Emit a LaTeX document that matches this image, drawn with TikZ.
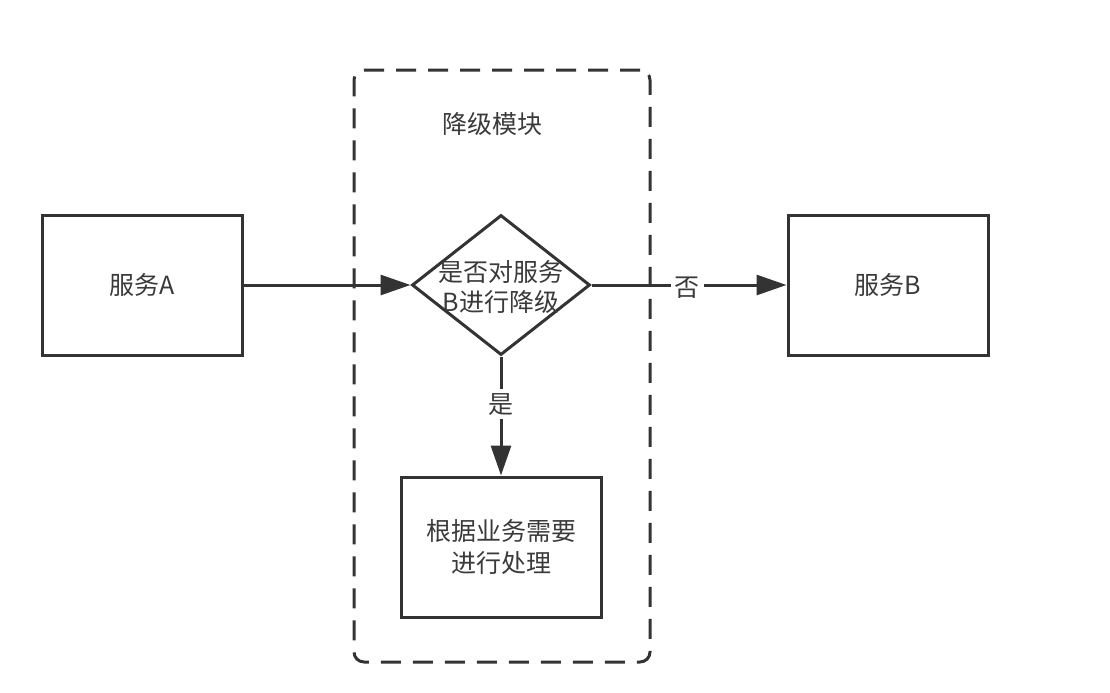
\documentclass[tikz,border=0pt]{standalone}
\usepackage{fontspec}
\setmainfont{Noto Sans CJK SC}
\usepackage{xcolor}
\usepackage{tikz}
\usetikzlibrary{shapes.geometric, arrows.meta, positioning}

\definecolor{linegray}{HTML}{333333}
\definecolor{textgray}{HTML}{3A3A3A}

\begin{document}
\begin{tikzpicture}[
        x=0.5pt, y=-0.5pt,
        node distance=59.5pt and 83.5pt,
        box/.style={draw=linegray, line width=1.5pt, rectangle, minimum width=100pt, minimum height=70pt, align=center, text=textgray, font=\fontsize{12.5}{16}\selectfont},
        decision/.style={draw=linegray, line width=1.5pt, diamond, inner sep=0pt, minimum width=89pt, minimum height=70pt},
        module/.style={draw=linegray, line width=1.5pt, dash pattern=on 10pt off 6pt, rounded corners=5pt, minimum width=148pt, minimum height=296pt},
        arrow/.style={-{Triangle[length=15pt, width=10pt]}, line width=1.5pt, draw=linegray},
        label/.style={align=center, text=textgray, font=\fontsize{12.5}{15}\selectfont},
        choice/.style={fill=white, inner sep=2pt, text=textgray, font=\fontsize{12.5}{15}\selectfont}
    ]
        \useasboundingbox (0,0) rectangle (1110,692);

        % Nodes
        \node[module] (mod) at (502,366) {};
        \node[label] (mod_title) at (492,124) {降级模块};
        \node[box] (svcA) at (142,285) {服务A};
        \node[decision, right=of svcA] (check) {};
        \node[label, yshift=-1pt] (check_text) at (check.center) {是否对服务\\B进行降级};
        \node[box, right=97.5pt of check] (svcB) {服务B};
        \node[box, below=of check] (handle) {根据业务需要\\进行处理};

        % Arrows
        \draw[arrow] (svcA) -- (check);
        \draw[arrow] (check) -- node[choice, pos=0.49, yshift=-1.5pt] (no) {否} (svcB);
        \draw[arrow] (check) -- node[choice, pos=0.4] (yes) {是} (handle);
    \end{tikzpicture}
\end{document}
